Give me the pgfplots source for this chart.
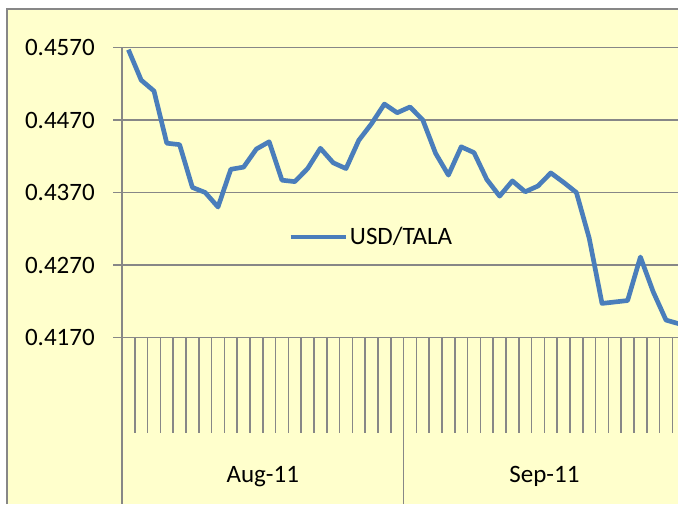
\documentclass[border=0pt]{standalone}
\usepackage{pgfplots}
\pgfplotsset{compat=1.18}
\usepackage{fontspec}
\setmainfont{Carlito}
\definecolor{bgyel}{HTML}{FFFFCC}
\definecolor{gridg}{HTML}{878787}
\definecolor{lineb}{HTML}{4A7EBB}
\begin{document}
\begin{tikzpicture}
\useasboundingbox (0,0) rectangle (508.5pt,378pt);
\fill[bgyel] (5.25pt,0) rectangle (508.5pt,371.25pt);
\draw[gridg, line width=1.6pt] (5.25pt,0) -- (5.25pt,371.25pt) -- (510pt,371.25pt);
\begin{axis}[
  at={(91.5pt,124.875pt)}, anchor=south west,
  scale only axis, width=417pt, height=217.5pt,
  xmin=0, xmax=43.4375, ymin=0.417, ymax=0.457,
  axis x line*=bottom, axis y line*=left,
  axis line style={gridg, line width=1.3pt},
  xtick=\empty,
  ytick={0.417,0.427,0.437,0.447,0.457},
  ymajorgrids, grid style={gridg, line width=1.3pt},
  tick align=outside, major tick length=6.75pt,
  ytick style={gridg, line width=1.3pt},
  /pgf/number format/assume math mode=true,
  yticklabel style={/pgf/number format/.cd, fixed, fixed zerofill, precision=4, /tikz/.cd,
    font=\fontsize{18.75}{22}\selectfont, inner sep=0pt, xshift=-13.5pt},
  clip=false,
  legend style={draw=none, fill=none, at={(0.2986,0.3466)}, anchor=west,
    inner sep=0pt, font=\fontsize{18.75}{22}\selectfont,
    nodes={inner sep=1.5pt}},
  legend image code/.code={\draw[#1] (0pt,0pt) -- (41.25pt,0pt);},
]
\addplot[lineb, line width=3.5pt, line join=round] coordinates {
(0.5,0.4567) (1.5,0.4525) (2.5,0.4510) (3.5,0.4438) (4.5,0.4436)
(5.5,0.4377) (6.5,0.4370) (7.5,0.4350) (8.5,0.4402) (9.5,0.4405)
(10.5,0.4430) (11.5,0.4440) (12.5,0.4387) (13.5,0.4385) (14.5,0.4403)
(15.5,0.4431) (16.5,0.4411) (17.5,0.4403) (18.5,0.4442) (19.5,0.4465)
(20.5,0.4492) (21.5,0.4480) (22.5,0.4488) (23.5,0.4470) (24.5,0.4424)
(25.5,0.4394) (26.5,0.4433) (27.5,0.4425) (28.5,0.4388) (29.5,0.4365)
(30.5,0.4386) (31.5,0.4371) (32.5,0.4379) (33.5,0.4397) (34.5,0.4384)
(35.5,0.4370) (36.5,0.4307) (37.5,0.4217) (38.5,0.4219) (39.5,0.4221)
(40.5,0.4281) (41.5,0.4233) (42.5,0.4194) (43.5,0.4189)
};
\addlegendentry{USD/TALA}
\pgfplotsinvokeforeach{1,...,43}{
  \draw[gridg, line width=1.3pt] (axis cs:#1,0.417) -- ++(0pt,-71.6pt);
}
\draw[gridg, line width=1.3pt] (axis cs:0,0.417) -- ++(0pt,-125pt);
\draw[gridg, line width=1.3pt] (axis cs:22,0.417) -- ++(0pt,-125pt);
\node[anchor=base, font=\fontsize{18.75}{22}\selectfont, yshift=-108.4pt] at (axis cs:11,0.417) {Aug-11};
\node[anchor=base, font=\fontsize{18.75}{22}\selectfont, yshift=-108.4pt] at (axis cs:33,0.417) {Sep-11};
\end{axis}
\end{tikzpicture}
\end{document}
